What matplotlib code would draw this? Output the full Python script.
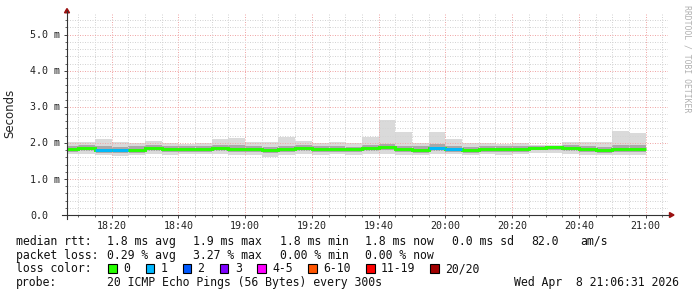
import matplotlib
matplotlib.use("Agg")
import matplotlib.pyplot as plt
import matplotlib.transforms as mtransforms
from matplotlib.lines import Line2D
from matplotlib.patches import Polygon, Rectangle
import numpy as np

W, H = 697, 297

# end of each 5 minute step, in minutes after 18:00
step_end = [10, 15, 20, 25, 30, 35, 40, 45, 50, 55, 60, 65, 70, 75, 80, 85, 90,
            95, 100, 105, 110, 115, 120, 125, 130, 135, 140, 145, 150, 155, 160,
            165, 170, 175, 180]

# rtt in ms: max / upper inner / median / lower inner / min of the 20 pings
rtt_max = [2.02, 2.02, 2.11, 2.02, 1.99, 2.06, 1.99, 1.97, 1.99, 2.11, 2.14, 2.01,
           2.02, 2.17, 2.05, 1.99, 2.02, 1.99, 2.17, 2.64, 2.29, 1.99, 2.31, 2.11,
           1.99, 1.99, 1.97, 1.99, 1.94, 1.93, 2.03, 2.03, 2.01, 2.33, 2.26]
rtt_hi = [1.92, 1.94, 1.90, 1.88, 1.90, 1.93, 1.91, 1.90, 1.92, 1.93, 1.93, 1.91,
          1.88, 1.92, 1.94, 1.90, 1.92, 1.89, 1.94, 1.98, 1.92, 1.90, 1.96, 1.92,
          1.88, 1.92, 1.90, 1.91, 1.91, 1.92, 1.94, 1.92, 1.89, 1.93, 1.93]
rtt_med = [1.84, 1.85, 1.80, 1.79, 1.80, 1.86, 1.83, 1.83, 1.84, 1.85, 1.84, 1.83,
           1.79, 1.84, 1.86, 1.82, 1.84, 1.82, 1.85, 1.88, 1.83, 1.80, 1.85, 1.83,
           1.80, 1.84, 1.83, 1.83, 1.86, 1.88, 1.86, 1.82, 1.80, 1.84, 1.84]
rtt_lo = [1.76, 1.77, 1.72, 1.72, 1.73, 1.78, 1.75, 1.76, 1.76, 1.77, 1.76, 1.75,
          1.71, 1.76, 1.78, 1.74, 1.76, 1.75, 1.77, 1.79, 1.75, 1.73, 1.77, 1.75,
          1.73, 1.76, 1.75, 1.76, 1.79, 1.80, 1.78, 1.74, 1.73, 1.76, 1.75]
rtt_min = [1.68, 1.68, 1.65, 1.64, 1.66, 1.70, 1.67, 1.68, 1.68, 1.68, 1.67, 1.66,
           1.62, 1.67, 1.70, 1.66, 1.68, 1.66, 1.68, 1.70, 1.67, 1.65, 1.70, 1.68,
           1.66, 1.68, 1.67, 1.68, 1.71, 1.72, 1.70, 1.66, 1.65, 1.66, 1.66]
# lost pings per step
lost = [0, 0, 1, 1, 0, 0, 0, 0, 0, 0, 0, 0, 0, 0, 0, 0, 0, 0, 0, 0, 0, 0, 1, 1,
        0, 0, 0, 0, 0, 0, 0, 0, 0, 0, 0]

loss_labels = ["0", "1", "2", "3", "4-5", "6-10", "11-19", "20/20"]
loss_colors = ["#26ff00", "#00b8ff", "#0059ff", "#7e00ff", "#ff00ff", "#ff5500",
               "#ff0000", "#a10000"]

xticks = [20, 40, 60, 80, 100, 120, 140, 160, 180]
xticklabels = ["18:20", "18:40", "19:00", "19:20", "19:40", "20:00", "20:20",
               "20:40", "21:00"]
yticks = [0, 1, 2, 3, 4, 5]
yticklabels = ["0.0", "1.0 m", "2.0 m", "3.0 m", "4.0 m", "5.0 m"]

mono = "DejaVu Sans Mono"


def fx(x):
    return x / W


def fy(y):
    return 1 - y / H


fig = plt.figure(figsize=(W / 100, H / 100), dpi=100)
ax = fig.add_axes([fx(66.5), fy(215), 601 / W, 202 / H])
ax.set_xlim(6.52, 186.52)
ax.set_ylim(0, 5.6)

edges = [step_end[0] - 5] + step_end

# smoke
ax.stairs(rtt_max, edges, baseline=rtt_min, fill=True, color="#dadada", zorder=1)
ax.stairs(rtt_hi, edges, baseline=rtt_lo, fill=True, color="#a9a9a9", zorder=1.2)

# median, coloured by loss
ax.stairs(rtt_med, edges, baseline=None, color=loss_colors[0], lw=2.1, zorder=3)
for i in range(len(rtt_med)):
    if lost[i] > 0:
        ax.hlines(rtt_med[i], edges[i], edges[i + 1], color=loss_colors[lost[i]],
                  lw=2.1, zorder=3.1)

# grid
ax.set_xticks(xticks)
ax.set_xticks(np.arange(10, 186, 5), minor=True)
ax.set_yticks(yticks)
ax.set_yticks(np.arange(0, 5.6, 0.2), minor=True)
ax.set_xticklabels([])
ax.set_yticklabels([])
ax.grid(which="minor", color="#d4d4d4", linestyle=(0, (1, 1.5)), lw=0.72)
ax.grid(which="major", color="#f0a8a8", linestyle=(0, (1, 1.5)), lw=0.72)
ax.set_axisbelow(False)
ax.tick_params(which="major", length=2.5, width=0.7, color="#444444", direction="out")
ax.tick_params(which="minor", length=1.5, width=0.7, color="#666666", direction="out")
for s in ax.spines.values():
    s.set_visible(False)

# axis lines with arrows
fig.add_artist(Line2D([fx(67), fx(67)], [fy(219), fy(11)], color="#333333", lw=0.8))
fig.add_artist(Line2D([fx(62), fx(669)], [fy(215), fy(215)], color="#333333", lw=0.8))
fig.add_artist(Polygon([(fx(67), fy(8.5)), (fx(64.5), fy(12.8)), (fx(69.5), fy(12.8))],
                       closed=True, color="#9b1010", transform=fig.transFigure))
fig.add_artist(Polygon([(fx(674), fy(215)), (fx(669.5), fy(212.5)), (fx(669.5), fy(217.5))],
                       closed=True, color="#9b1010", transform=fig.transFigure))

# tick labels
tx = mtransforms.blended_transform_factory(ax.transData, fig.transFigure)
for t, lab in zip(xticks, xticklabels):
    ax.text(t, fy(228.6), lab, transform=tx, ha="center", va="baseline",
            family=mono, fontsize=7.2, color="#222222")
ty = mtransforms.blended_transform_factory(fig.transFigure, ax.transData)
ty = mtransforms.offset_copy(ty, fig=fig, x=0, y=-3.6, units="dots")
for v, lab in zip(yticks, yticklabels):
    fig.text(fx(30), v, lab, transform=ty, ha="left", va="baseline",
             family=mono, fontsize=7.2, color="#222222")

fig.text(fx(10), fy(113), "Seconds", rotation=90, ha="center", va="center",
         family="DejaVu Sans", fontsize=8.5, color="#222222")
fig.text(fx(687), fy(5), "RRDTOOL / TOBI OETIKER", rotation=270, ha="center",
         va="top", family=mono, fontsize=5.9, color="#b0b0b0")

# legend
rows = [
    (245.0, [(16, "median rtt:"), (107, "1.8 ms avg"), (193, "1.9 ms max"),
             (280, "1.8 ms min"), (365, "1.8 ms now"), (452, "0.0 ms sd"),
             (531, "82.0"), (580, "am/s")]),
    (258.7, [(16, "packet loss:"), (107, "0.29 % avg"), (193, "3.27 % max"),
             (280, "0.00 % min"), (365, "0.00 % now")]),
    (272.4, [(16, "loss color:")]),
    (286.2, [(16, "probe:"), (107, "20 ICMP Echo Pings (56 Bytes) every 300s"),
             (514, "Wed Apr  8 21:06:31 2026")]),
]
for yb, items in rows:
    for x, s in items:
        fig.text(fx(x), fy(yb), s, ha="left", va="baseline", family=mono,
                 fontsize=8.3, color="#111111")

box_x = [108, 145.6, 182.5, 220, 257, 308, 366, 430]
for bx, lab, col in zip(box_x, loss_labels, loss_colors):
    fig.add_artist(Rectangle((fx(bx), fy(273)), 8.5 / W, 9 / H, facecolor=col,
                             edgecolor="black", lw=0.8, transform=fig.transFigure))
    fig.text(fx(bx + 15), fy(272.4), lab, ha="left", va="baseline", family=mono,
             fontsize=8.3, color="#111111")

fig.savefig("out.png", dpi=100)
